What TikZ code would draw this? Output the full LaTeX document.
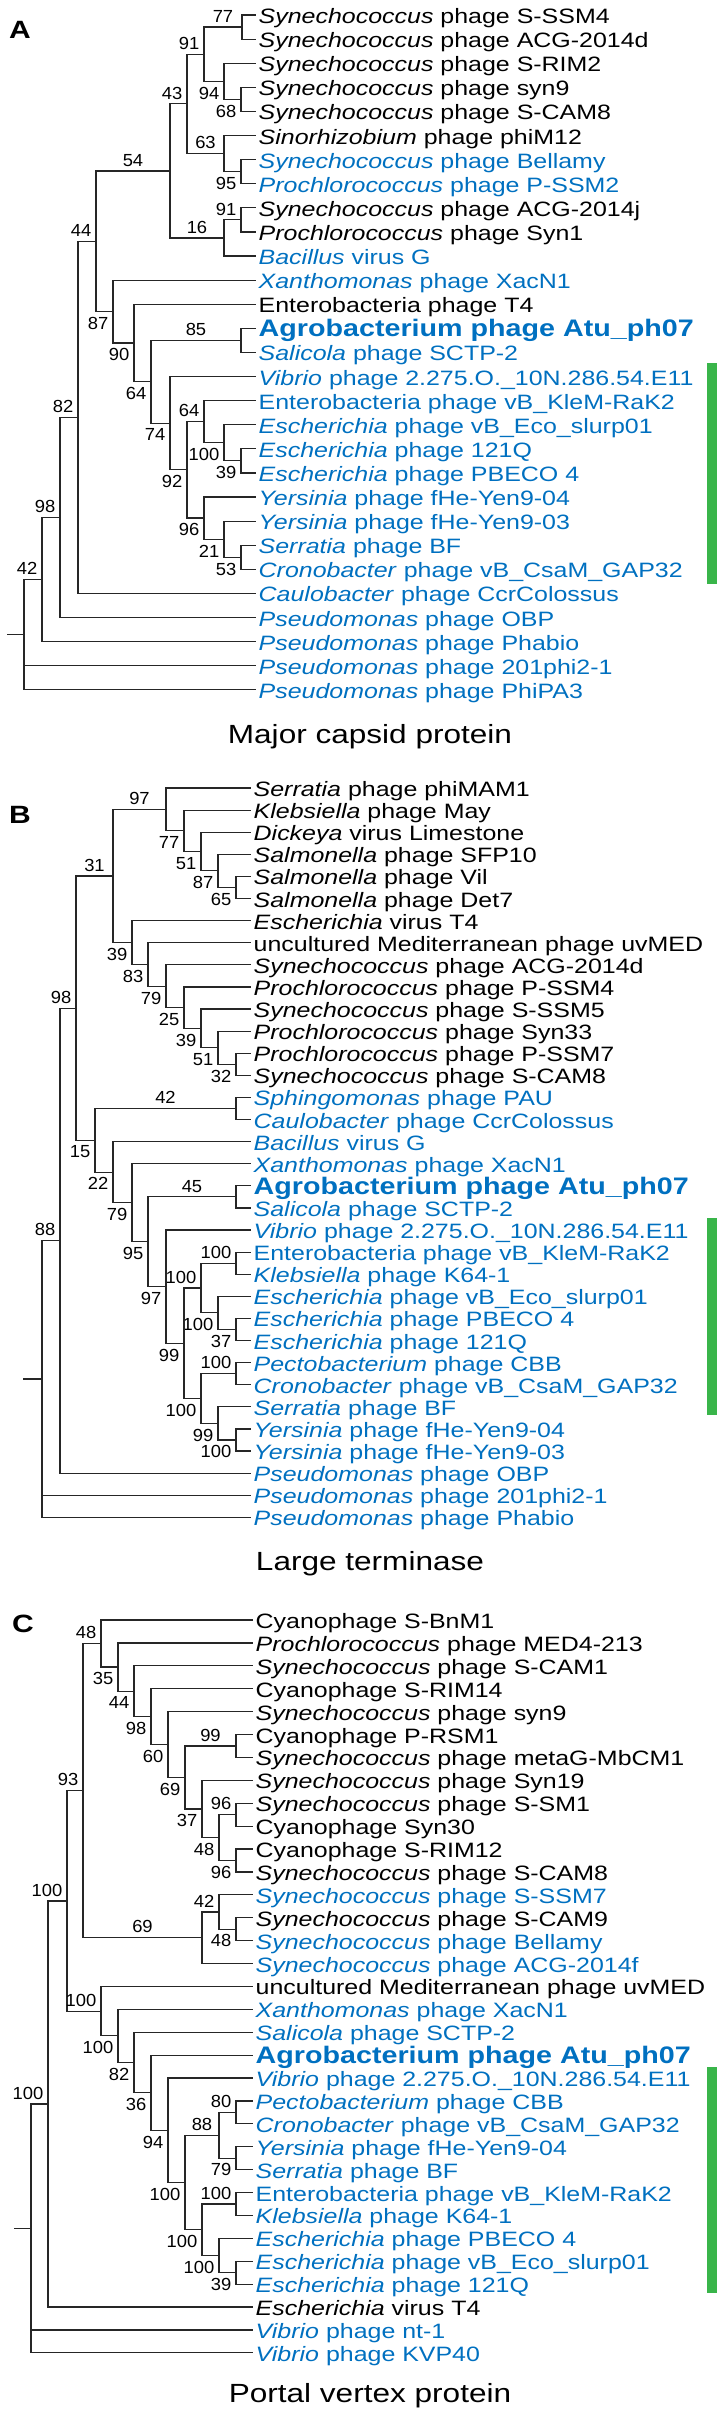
\documentclass[tikz,border=0pt]{standalone}
\usepackage{fontspec}
\setmainfont{Liberation Sans}[FakeStretch=1.2]
\newfontfamily\numfont{Liberation Sans}[FakeStretch=1.05]
\usepackage{xcolor}
\usepackage{tikz}
\usetikzlibrary{positioning, calc}

\definecolor{phblue}{RGB}{0,112,192}
\definecolor{cladegreen}{RGB}{57,181,74}

\begin{document}
\begin{tikzpicture}[
    x=1pt, y=-1pt,
    br/.style={draw=black!85, line width=1.2pt},
    leaf/.style={anchor=west, inner xsep=2.5pt, inner ysep=0pt, text height=20pt, text depth=3pt, font=\fontsize{20.8}{24}\selectfont},
    hit/.style={leaf, text=phblue},
    atu/.style={leaf, text=phblue, font=\fontsize{23.9}{28}\selectfont\bfseries},
    bs/.style={font=\numfont\fontsize{17.5}{20}\selectfont, inner sep=1pt},
    ua/.style={bs, pos=1, anchor=south east, xshift=-3pt, yshift=3pt},
    ub/.style={bs, pos=1, anchor=north east, xshift=-3pt, yshift=-4pt},
    ma/.style={bs, pos=.75, anchor=south, yshift=3pt},
    panel/.style={font=\fontsize{25}{30}\selectfont\bfseries, anchor=base west, inner sep=0pt},
    title/.style={font=\fontsize{26.3}{32}\selectfont, anchor=base, inner sep=0pt},
    bar/.style={fill=cladegreen, draw=none}
]
\useasboundingbox (0,0) rectangle (721,2415);

% Panel A
\node[panel] (la) at (9,38) {A};
\begin{scope}[yshift=-15pt, y=-24.1pt]
% Leaves
\node[leaf] (a0) at (256,0) {\textit{Synechococcus} phage S-SSM4};
\node[leaf] (a1) at (256,1) {\textit{Synechococcus} phage ACG-2014d};
\node[leaf] (a2) at (256,2) {\textit{Synechococcus} phage S-RIM2};
\node[leaf] (a3) at (256,3) {\textit{Synechococcus} phage syn9};
\node[leaf] (a4) at (256,4) {\textit{Synechococcus} phage S-CAM8};
\node[leaf] (a5) at (256,5) {\textit{Sinorhizobium} phage phiM12};
\node[hit] (a6) at (256,6) {\textit{Synechococcus} phage Bellamy};
\node[hit] (a7) at (256,7) {\textit{Prochlorococcus} phage P-SSM2};
\node[leaf] (a8) at (256,8) {\textit{Synechococcus} phage ACG-2014j};
\node[leaf] (a9) at (256,9) {\textit{Prochlorococcus} phage Syn1};
\node[hit] (a10) at (256,10) {\textit{Bacillus} virus G};
\node[hit] (a11) at (256,11) {\textit{Xanthomonas} phage XacN1};
\node[leaf] (a12) at (256,12) {Enterobacteria phage T4};
\node[atu] (a13) at (256,13) {Agrobacterium phage Atu\_ph07};
\node[hit] (a14) at (256,14) {\textit{Salicola} phage SCTP-2};
\node[hit] (a15) at (256,15) {\textit{Vibrio} phage 2.275.O.\_10N.286.54.E11};
\node[hit] (a16) at (256,16) {Enterobacteria phage vB\_KleM-RaK2};
\node[hit] (a17) at (256,17) {\textit{Escherichia} phage vB\_Eco\_slurp01};
\node[hit] (a18) at (256,18) {\textit{Escherichia} phage 121Q};
\node[hit] (a19) at (256,19) {\textit{Escherichia} phage PBECO 4};
\node[hit] (a20) at (256,20) {\textit{Yersinia} phage fHe-Yen9-04};
\node[hit] (a21) at (256,21) {\textit{Yersinia} phage fHe-Yen9-03};
\node[hit] (a22) at (256,22) {\textit{Serratia} phage BF};
\node[hit] (a23) at (256,23) {\textit{Cronobacter} phage vB\_CsaM\_GAP32};
\node[hit] (a24) at (256,24) {\textit{Caulobacter} phage CcrColossus};
\node[hit] (a25) at (256,25) {\textit{Pseudomonas} phage OBP};
\node[hit] (a26) at (256,26) {\textit{Pseudomonas} phage Phabio};
\node[hit] (a27) at (256,27) {\textit{Pseudomonas} phage 201phi2-1};
\node[hit] (a28) at (256,28) {\textit{Pseudomonas} phage PhiPA3};
% Internal nodes
\coordinate (na77) at (242,0.5);
\coordinate (na68) at (241,3.5);
\coordinate (na94) at (224,2.75);
\coordinate (na91) at (204,1.625);
\coordinate (na95) at (241,6.5);
\coordinate (na63) at (224,5.75);
\coordinate (na43) at (187,3.6875);
\coordinate (na91b) at (241,8.5);
\coordinate (na16) at (224,9.25);
\coordinate (na54) at (170,6.469);
\coordinate (na85) at (241,13.5);
\coordinate (na53) at (241,22.5);
\coordinate (na21) at (224,21.75);
\coordinate (na96) at (204,20.875);
\coordinate (na39) at (241,18.5);
\coordinate (na100) at (224,17.75);
\coordinate (na64b) at (204,16.875);
\coordinate (na92) at (187,18.875);
\coordinate (na74) at (170,16.938);
\coordinate (na64) at (151,15.219);
\coordinate (na90) at (134,13.609);
\coordinate (na87) at (113,12.305);
\coordinate (na44) at (96,9.387);
\coordinate (na82) at (78,16.693);
\coordinate (na98) at (60,20.847);
\coordinate (na42) at (42,23.423);
\coordinate (naroot) at (24,25.712);
\coordinate (aout) at (7,25.712);
% Branches
\draw[br] (na77) |- (a0.west);
\draw[br] (na77) |- (a1.west);
\draw[br] (na68) |- (a3.west);
\draw[br] (na68) |- (a4.west);
\draw[br] (na94) |- (a2.west);
\draw[br] (na94) |- node[ub] {68} (na68);
\draw[br] (na91) |- node[ma] {77} (na77);
\draw[br] (na91) |- node[ub] {94} (na94);
\draw[br] (na95) |- (a6.west);
\draw[br] (na95) |- (a7.west);
\draw[br] (na63) |- (a5.west);
\draw[br] (na63) |- node[ub] {95} (na95);
\draw[br] (na43) |- node[ua] {91} (na91);
\draw[br] (na43) |- node[ma] {63} (na63);
\draw[br] (na91b) |- (a8.west);
\draw[br] (na91b) |- (a9.west);
\draw[br] (na16) |- node[ua] {91} (na91b);
\draw[br] (na16) |- (a10.west);
\draw[br] (na54) |- node[ua] {43} (na43);
\draw[br] (na54) |- node[ma] {16} (na16);
\draw[br] (na85) |- (a13.west);
\draw[br] (na85) |- (a14.west);
\draw[br] (na53) |- (a22.west);
\draw[br] (na53) |- (a23.west);
\draw[br] (na21) |- (a21.west);
\draw[br] (na21) |- node[ub] {53} (na53);
\draw[br] (na96) |- (a20.west);
\draw[br] (na96) |- node[ub] {21} (na21);
\draw[br] (na39) |- (a18.west);
\draw[br] (na39) |- (a19.west);
\draw[br] (na100) |- (a17.west);
\draw[br] (na100) |- node[ub] {39} (na39);
\draw[br] (na64b) |- (a16.west);
\draw[br] (na64b) |- node[ub] {100} (na100);
\draw[br] (na92) |- node[ua] {64} (na64b);
\draw[br] (na92) |- node[ub] {96} (na96);
\draw[br] (na74) |- (a15.west);
\draw[br] (na74) |- node[ub] {92} (na92);
\draw[br] (na64) |- node[ma] {85} (na85);
\draw[br] (na64) |- node[ub] {74} (na74);
\draw[br] (na90) |- (a12.west);
\draw[br] (na90) |- node[ub] {64} (na64);
\draw[br] (na87) |- (a11.west);
\draw[br] (na87) |- node[ub] {90} (na90);
\draw[br] (na44) |- node[ma] {54} (na54);
\draw[br] (na44) |- node[ub] {87} (na87);
\draw[br] (na82) |- node[ua] {44} (na44);
\draw[br] (na82) |- (a24.west);
\draw[br] (na98) |- node[ua] {82} (na82);
\draw[br] (na98) |- (a25.west);
\draw[br] (na42) |- node[ua] {98} (na98);
\draw[br] (na42) |- (a26.west);
\draw[br] (naroot) |- node[ua] {42} (na42);
\draw[br] (naroot) |- (a27.west);
\draw[br] (naroot) |- (a28.west);
\draw[br] (aout) -- (naroot);
\end{scope}
\fill[bar] (707,363) rectangle (717,584);
\node[title] (ta) at (370,743) {Major capsid protein};

% Panel B
\node[panel] (lb) at (9,823) {B};
\begin{scope}[yshift=-788pt, y=-22.1pt]
% Leaves
\node[leaf] (b0) at (251,0) {\textit{Serratia} phage phiMAM1};
\node[leaf] (b1) at (251,1) {\textit{Klebsiella} phage May};
\node[leaf] (b2) at (251,2) {\textit{Dickeya} virus Limestone};
\node[leaf] (b3) at (251,3) {\textit{Salmonella} phage SFP10};
\node[leaf] (b4) at (251,4) {\textit{Salmonella} phage Vil};
\node[leaf] (b5) at (251,5) {\textit{Salmonella} phage Det7};
\node[leaf] (b6) at (251,6) {\textit{Escherichia} virus T4};
\node[leaf] (b7) at (251,7) {uncultured Mediterranean phage uvMED};
\node[leaf] (b8) at (251,8) {\textit{Synechococcus} phage ACG-2014d};
\node[leaf] (b9) at (251,9) {\textit{Prochlorococcus} phage P-SSM4};
\node[leaf] (b10) at (251,10) {\textit{Synechococcus} phage S-SSM5};
\node[leaf] (b11) at (251,11) {\textit{Prochlorococcus} phage Syn33};
\node[leaf] (b12) at (251,12) {\textit{Prochlorococcus} phage P-SSM7};
\node[leaf] (b13) at (251,13) {\textit{Synechococcus} phage S-CAM8};
\node[hit] (b14) at (251,14) {\textit{Sphingomonas} phage PAU};
\node[hit] (b15) at (251,15) {\textit{Caulobacter} phage CcrColossus};
\node[hit] (b16) at (251,16) {\textit{Bacillus} virus G};
\node[hit] (b17) at (251,17) {\textit{Xanthomonas} phage XacN1};
\node[atu] (b18) at (251,18) {Agrobacterium phage Atu\_ph07};
\node[hit] (b19) at (251,19) {\textit{Salicola} phage SCTP-2};
\node[hit] (b20) at (251,20) {\textit{Vibrio} phage 2.275.O.\_10N.286.54.E11};
\node[hit] (b21) at (251,21) {Enterobacteria phage vB\_KleM-RaK2};
\node[hit] (b22) at (251,22) {\textit{Klebsiella} phage K64-1};
\node[hit] (b23) at (251,23) {\textit{Escherichia} phage vB\_Eco\_slurp01};
\node[hit] (b24) at (251,24) {\textit{Escherichia} phage PBECO 4};
\node[hit] (b25) at (251,25) {\textit{Escherichia} phage 121Q};
\node[hit] (b26) at (251,26) {\textit{Pectobacterium} phage CBB};
\node[hit] (b27) at (251,27) {\textit{Cronobacter} phage vB\_CsaM\_GAP32};
\node[hit] (b28) at (251,28) {\textit{Serratia} phage BF};
\node[hit] (b29) at (251,29) {\textit{Yersinia} phage fHe-Yen9-04};
\node[hit] (b30) at (251,30) {\textit{Yersinia} phage fHe-Yen9-03};
\node[hit] (b31) at (251,31) {\textit{Pseudomonas} phage OBP};
\node[hit] (b32) at (251,32) {\textit{Pseudomonas} phage 201phi2-1};
\node[hit] (b33) at (251,33) {\textit{Pseudomonas} phage Phabio};
% Internal nodes
\coordinate (nb65) at (236,4.5);
\coordinate (nb87) at (218,3.75);
\coordinate (nb51) at (201,2.875);
\coordinate (nb77) at (184,1.938);
\coordinate (nb97) at (166,0.969);
\coordinate (nb32) at (236,12.5);
\coordinate (nb51b) at (218,11.75);
\coordinate (nb39b) at (201,10.875);
\coordinate (nb25) at (184,9.938);
\coordinate (nb79) at (166,8.969);
\coordinate (nb83) at (148,7.984);
\coordinate (nb39) at (132,6.992);
\coordinate (nb31) at (113,3.980);
\coordinate (nb42) at (236,14.5);
\coordinate (nb45) at (236,18.5);
\coordinate (nb100b) at (236,21.5);
\coordinate (nb37) at (236,24.5);
\coordinate (nb100c) at (218,23.75);
\coordinate (nb100a) at (201,22.625);
\coordinate (nb100e) at (236,26.5);
\coordinate (nb100f) at (236,29.5);
\coordinate (nb99b) at (218,28.75);
\coordinate (nb100d) at (201,27.625);
\coordinate (nb99) at (184,25.125);
\coordinate (nb97b) at (166,22.563);
\coordinate (nb95) at (148,20.531);
\coordinate (nb79b) at (132,18.766);
\coordinate (nb22) at (113,17.383);
\coordinate (nb15) at (95,15.941);
\coordinate (nb98) at (76,9.961);
\coordinate (nb88) at (60,20.480);
\coordinate (nbroot) at (42,26.740);
\coordinate (bout) at (23,26.740);
% Branches
\draw[br] (nb65) |- (b4.west);
\draw[br] (nb65) |- (b5.west);
\draw[br] (nb87) |- (b3.west);
\draw[br] (nb87) |- node[ub] {65} (nb65);
\draw[br] (nb51) |- (b2.west);
\draw[br] (nb51) |- node[ub] {87} (nb87);
\draw[br] (nb77) |- (b1.west);
\draw[br] (nb77) |- node[ub] {51} (nb51);
\draw[br] (nb97) |- (b0.west);
\draw[br] (nb97) |- node[ub] {77} (nb77);
\draw[br] (nb32) |- (b12.west);
\draw[br] (nb32) |- (b13.west);
\draw[br] (nb51b) |- (b11.west);
\draw[br] (nb51b) |- node[ub] {32} (nb32);
\draw[br] (nb39b) |- (b10.west);
\draw[br] (nb39b) |- node[ub] {51} (nb51b);
\draw[br] (nb25) |- (b9.west);
\draw[br] (nb25) |- node[ub] {39} (nb39b);
\draw[br] (nb79) |- (b8.west);
\draw[br] (nb79) |- node[ub] {25} (nb25);
\draw[br] (nb83) |- (b7.west);
\draw[br] (nb83) |- node[ub] {79} (nb79);
\draw[br] (nb39) |- (b6.west);
\draw[br] (nb39) |- node[ub] {83} (nb83);
\draw[br] (nb31) |- node[ma] {97} (nb97);
\draw[br] (nb31) |- node[ub] {39} (nb39);
\draw[br] (nb42) |- (b14.west);
\draw[br] (nb42) |- (b15.west);
\draw[br] (nb45) |- (b18.west);
\draw[br] (nb45) |- (b19.west);
\draw[br] (nb100b) |- (b21.west);
\draw[br] (nb100b) |- (b22.west);
\draw[br] (nb37) |- (b24.west);
\draw[br] (nb37) |- (b25.west);
\draw[br] (nb100c) |- (b23.west);
\draw[br] (nb100c) |- node[ub] {37} (nb37);
\draw[br] (nb100a) |- node[ua] {100} (nb100b);
\draw[br] (nb100a) |- node[ub] {100} (nb100c);
\draw[br] (nb100e) |- (b26.west);
\draw[br] (nb100e) |- (b27.west);
\draw[br] (nb100f) |- (b29.west);
\draw[br] (nb100f) |- (b30.west);
\draw[br] (nb99b) |- (b28.west);
\draw[br] (nb99b) |- node[ub] {100} (nb100f);
\draw[br] (nb100d) |- node[ua] {100} (nb100e);
\draw[br] (nb100d) |- node[ub] {99} (nb99b);
\draw[br] (nb99) |- node[ua] {100} (nb100a);
\draw[br] (nb99) |- node[ub] {100} (nb100d);
\draw[br] (nb97b) |- (b20.west);
\draw[br] (nb97b) |- node[ub] {99} (nb99);
\draw[br] (nb95) |- node[ma] {45} (nb45);
\draw[br] (nb95) |- node[ub] {97} (nb97b);
\draw[br] (nb79b) |- (b17.west);
\draw[br] (nb79b) |- node[ub] {95} (nb95);
\draw[br] (nb22) |- (b16.west);
\draw[br] (nb22) |- node[ub] {79} (nb79b);
\draw[br] (nb15) |- node[ma] {42} (nb42);
\draw[br] (nb15) |- node[ub] {22} (nb22);
\draw[br] (nb98) |- node[ma] {31} (nb31);
\draw[br] (nb98) |- node[ub] {15} (nb15);
\draw[br] (nb88) |- node[ua] {98} (nb98);
\draw[br] (nb88) |- (b31.west);
\draw[br] (nbroot) |- node[ua] {88} (nb88);
\draw[br] (nbroot) |- (b32.west);
\draw[br] (nbroot) |- (b33.west);
\draw[br] (bout) -- (nbroot);
\end{scope}
\fill[bar] (707,1218) rectangle (717,1415);
\node[title] (tb) at (370,1570) {Large terminase};

% Panel C
\node[panel] (lc) at (12,1632) {C};
\begin{scope}[yshift=-1620pt, y=-22.9pt]
% Leaves
\node[leaf] (c0) at (253,0) {Cyanophage S-BnM1};
\node[leaf] (c1) at (253,1) {\textit{Prochlorococcus} phage MED4-213};
\node[leaf] (c2) at (253,2) {\textit{Synechococcus} phage S-CAM1};
\node[leaf] (c3) at (253,3) {Cyanophage S-RIM14};
\node[leaf] (c4) at (253,4) {\textit{Synechococcus} phage syn9};
\node[leaf] (c5) at (253,5) {Cyanophage P-RSM1};
\node[leaf] (c6) at (253,6) {\textit{Synechococcus} phage metaG-MbCM1};
\node[leaf] (c7) at (253,7) {\textit{Synechococcus} phage Syn19};
\node[leaf] (c8) at (253,8) {\textit{Synechococcus} phage S-SM1};
\node[leaf] (c9) at (253,9) {Cyanophage Syn30};
\node[leaf] (c10) at (253,10) {Cyanophage S-RIM12};
\node[leaf] (c11) at (253,11) {\textit{Synechococcus} phage S-CAM8};
\node[hit] (c12) at (253,12) {\textit{Synechococcus} phage S-SSM7};
\node[leaf] (c13) at (253,13) {\textit{Synechococcus} phage S-CAM9};
\node[hit] (c14) at (253,14) {\textit{Synechococcus} phage Bellamy};
\node[hit] (c15) at (253,15) {\textit{Synechococcus} phage ACG-2014f};
\node[leaf] (c16) at (253,16) {uncultured Mediterranean phage uvMED};
\node[hit] (c17) at (253,17) {\textit{Xanthomonas} phage XacN1};
\node[hit] (c18) at (253,18) {\textit{Salicola} phage SCTP-2};
\node[atu] (c19) at (253,19) {Agrobacterium phage Atu\_ph07};
\node[hit] (c20) at (253,20) {\textit{Vibrio} phage 2.275.O.\_10N.286.54.E11};
\node[hit] (c21) at (253,21) {\textit{Pectobacterium} phage CBB};
\node[hit] (c22) at (253,22) {\textit{Cronobacter} phage vB\_CsaM\_GAP32};
\node[hit] (c23) at (253,23) {\textit{Yersinia} phage fHe-Yen9-04};
\node[hit] (c24) at (253,24) {\textit{Serratia} phage BF};
\node[hit] (c25) at (253,25) {Enterobacteria phage vB\_KleM-RaK2};
\node[hit] (c26) at (253,26) {\textit{Klebsiella} phage K64-1};
\node[hit] (c27) at (253,27) {\textit{Escherichia} phage PBECO 4};
\node[hit] (c28) at (253,28) {\textit{Escherichia} phage vB\_Eco\_slurp01};
\node[hit] (c29) at (253,29) {\textit{Escherichia} phage 121Q};
\node[leaf] (c30) at (253,30) {\textit{Escherichia} virus T4};
\node[hit] (c31) at (253,31) {\textit{Vibrio} phage nt-1};
\node[hit] (c32) at (253,32) {\textit{Vibrio} phage KVP40};
% Internal nodes
\coordinate (nc99) at (236,5.5);
\coordinate (nc96) at (236,8.5);
\coordinate (nc96b) at (236,10.5);
\coordinate (nc48b) at (219,9.5);
\coordinate (nc37) at (202,8.25);
\coordinate (nc69a) at (185,6.875);
\coordinate (nc60) at (168,5.438);
\coordinate (nc98) at (151,4.219);
\coordinate (nc44) at (134,3.109);
\coordinate (nc35) at (118,2.055);
\coordinate (nc48) at (101,1.027);
\coordinate (nc48c) at (236,13.5);
\coordinate (nc42) at (219,12.75);
\coordinate (nc69b) at (202,13.875);
\coordinate (nc93) at (83,7.451);
\coordinate (nc80) at (236,21.5);
\coordinate (nc79) at (236,23.5);
\coordinate (nc88) at (219,22.5);
\coordinate (nc100e) at (236,25.5);
\coordinate (nc39) at (236,28.5);
\coordinate (nc100g) at (219,27.75);
\coordinate (nc100f) at (202,26.625);
\coordinate (nc100d) at (185,24.563);
\coordinate (nc94) at (168,22.281);
\coordinate (nc36) at (151,20.641);
\coordinate (nc82) at (134,19.320);
\coordinate (nc100c) at (118,18.160);
\coordinate (nc100b) at (101,17.080);
\coordinate (nc100a) at (67,12.266);
\coordinate (nc100r) at (48,21.133);
\coordinate (ncroot) at (31,26.566);
\coordinate (cout) at (14,26.566);
% Branches
\draw[br] (nc99) |- (c5.west);
\draw[br] (nc99) |- (c6.west);
\draw[br] (nc96) |- (c8.west);
\draw[br] (nc96) |- (c9.west);
\draw[br] (nc96b) |- (c10.west);
\draw[br] (nc96b) |- (c11.west);
\draw[br] (nc48b) |- node[ua] {96} (nc96);
\draw[br] (nc48b) |- node[ub] {96} (nc96b);
\draw[br] (nc37) |- (c7.west);
\draw[br] (nc37) |- node[ub] {48} (nc48b);
\draw[br] (nc69a) |- node[ma] {99} (nc99);
\draw[br] (nc69a) |- node[ub] {37} (nc37);
\draw[br] (nc60) |- (c4.west);
\draw[br] (nc60) |- node[ub] {69} (nc69a);
\draw[br] (nc98) |- (c3.west);
\draw[br] (nc98) |- node[ub] {60} (nc60);
\draw[br] (nc44) |- (c2.west);
\draw[br] (nc44) |- node[ub] {98} (nc98);
\draw[br] (nc35) |- (c1.west);
\draw[br] (nc35) |- node[ub] {44} (nc44);
\draw[br] (nc48) |- (c0.west);
\draw[br] (nc48) |- node[ub] {35} (nc35);
\draw[br] (nc48c) |- (c13.west);
\draw[br] (nc48c) |- (c14.west);
\draw[br] (nc42) |- (c12.west);
\draw[br] (nc42) |- node[ub] {48} (nc48c);
\draw[br] (nc69b) |- node[ua] {42} (nc42);
\draw[br] (nc69b) |- (c15.west);
\draw[br] (nc93) |- node[ua] {48} (nc48);
\draw[br] (nc93) |- node[ma] {69} (nc69b);
\draw[br] (nc80) |- (c21.west);
\draw[br] (nc80) |- (c22.west);
\draw[br] (nc79) |- (c23.west);
\draw[br] (nc79) |- (c24.west);
\draw[br] (nc88) |- node[ua] {80} (nc80);
\draw[br] (nc88) |- node[ub] {79} (nc79);
\draw[br] (nc100e) |- (c25.west);
\draw[br] (nc100e) |- (c26.west);
\draw[br] (nc39) |- (c28.west);
\draw[br] (nc39) |- (c29.west);
\draw[br] (nc100g) |- (c27.west);
\draw[br] (nc100g) |- node[ub] {39} (nc39);
\draw[br] (nc100f) |- node[ua] {100} (nc100e);
\draw[br] (nc100f) |- node[ub] {100} (nc100g);
\draw[br] (nc100d) |- node[ma] {88} (nc88);
\draw[br] (nc100d) |- node[ub] {100} (nc100f);
\draw[br] (nc94) |- (c20.west);
\draw[br] (nc94) |- node[ub] {100} (nc100d);
\draw[br] (nc36) |- (c19.west);
\draw[br] (nc36) |- node[ub] {94} (nc94);
\draw[br] (nc82) |- (c18.west);
\draw[br] (nc82) |- node[ub] {36} (nc36);
\draw[br] (nc100c) |- (c17.west);
\draw[br] (nc100c) |- node[ub] {82} (nc82);
\draw[br] (nc100b) |- (c16.west);
\draw[br] (nc100b) |- node[ub] {100} (nc100c);
\draw[br] (nc100a) |- node[ua] {93} (nc93);
\draw[br] (nc100a) |- node[ua] {100} (nc100b);
\draw[br] (nc100r) |- node[ua] {100} (nc100a);
\draw[br] (nc100r) |- (c30.west);
\draw[br] (ncroot) |- node[ua] {100} (nc100r);
\draw[br] (ncroot) |- (c31.west);
\draw[br] (ncroot) |- (c32.west);
\draw[br] (cout) -- (ncroot);
\end{scope}
\fill[bar] (707,2067) rectangle (717,2293);
\node[title] (tc) at (370,2402) {Portal vertex protein};
\end{tikzpicture}
\end{document}
